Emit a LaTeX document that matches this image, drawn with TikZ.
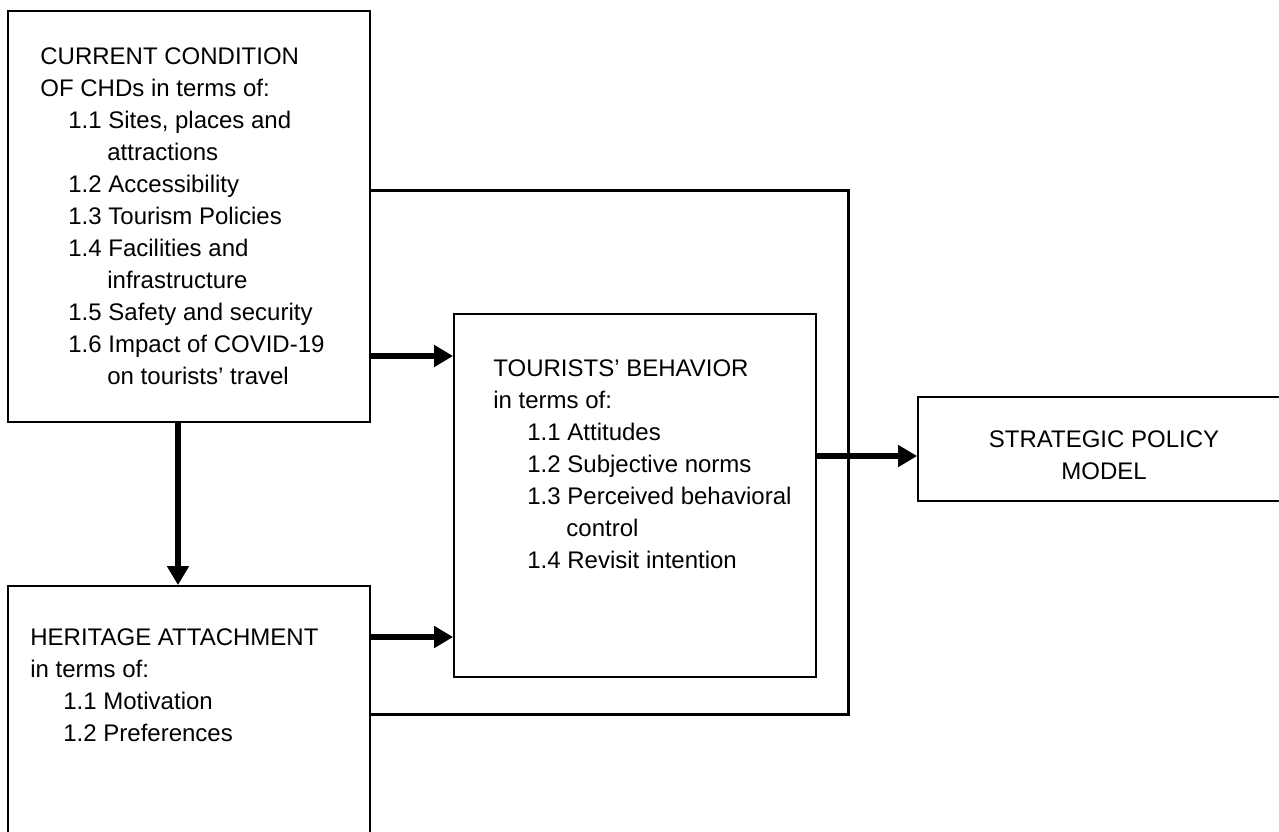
\documentclass[tikz,border=0pt]{standalone}
\usepackage{fontspec}
\setmainfont{Liberation Sans}
\usetikzlibrary{arrows.meta}

\tikzset{
  box/.style={draw, rectangle, line width=0.9pt, inner sep=0pt},
  txt/.style={anchor=north west, align=left, inner sep=0pt, font=\fontsize{12}{16}\selectfont},
  flow/.style={line width=3pt, -{Triangle[length=9.5pt,width=10.5pt]}},
  link/.style={line width=1.5pt},
}

\begin{document}
\begin{tikzpicture}[x=0.5pt,y=-0.5pt]
    \clip (0,0) rectangle (1279,831);
    \fill[white] (0,0) rectangle (1279,831);

    % Boxes
    \node[box, minimum width=181pt, minimum height=205.5pt] (cond) at (189,216.5) {};
    \node[box, minimum width=181pt, minimum height=137pt] (heri) at (189,723) {};
    \node[box, minimum width=181pt, minimum height=181.5pt] (beh) at (635,495.5) {};
    \node[box, minimum width=186pt, minimum height=52pt] (pol) at (1104,449) {};

    % Texts
    \node[txt] (condtxt) at (40,47) {CURRENT CONDITION\\
        OF CHDs in terms of:\\
        \hspace*{14pt}1.1 Sites, places and\\
        \hspace*{33.5pt}attractions\\
        \hspace*{14pt}1.2 Accessibility\\
        \hspace*{14pt}1.3 Tourism Policies\\
        \hspace*{14pt}1.4 Facilities and\\
        \hspace*{33.5pt}infrastructure\\
        \hspace*{14pt}1.5 Safety and security\\
        \hspace*{14pt}1.6 Impact of COVID-19\\
        \hspace*{33.5pt}on tourists’ travel};
    \node[txt] (heritxt) at (30,628) {HERITAGE ATTACHMENT\\
        in terms of:\\
        \hspace*{16.5pt}1.1 Motivation\\
        \hspace*{16.5pt}1.2 Preferences};
    \node[txt] (behtxt) at (493,359) {TOURISTS’ BEHAVIOR\\
        in terms of:\\
        \hspace*{17pt}1.1 Attitudes\\
        \hspace*{17pt}1.2 Subjective norms\\
        \hspace*{17pt}1.3 Perceived behavioral\\
        \hspace*{36.5pt}control\\
        \hspace*{17pt}1.4 Revisit intention};
    \node[txt, anchor=center, align=center] (poltxt) at (1104,455) {STRATEGIC POLICY\\MODEL};

    % Turning points
    \coordinate (armA) at (400,356);
    \coordinate (armB) at (400,637);
    \coordinate (armC) at (870,456);
    \coordinate (downx) at (178,500);
    \coordinate (jtop) at (848,190);
    \coordinate (jbot) at (848,714);

    % Connectors
    \draw[link] (cond.east |- jtop) -- (jtop) -- (jbot) -- (heri.east |- jbot);
    \draw[flow] (cond.east |- armA) -- (beh.west |- armA);
    \draw[flow] (heri.east |- armB) -- (beh.west |- armB);
    \draw[flow] (beh.east |- armC) -- (pol.west |- armC);
    \draw[flow] (cond.south -| downx) -- (heri.north -| downx);
\end{tikzpicture}
\end{document}
